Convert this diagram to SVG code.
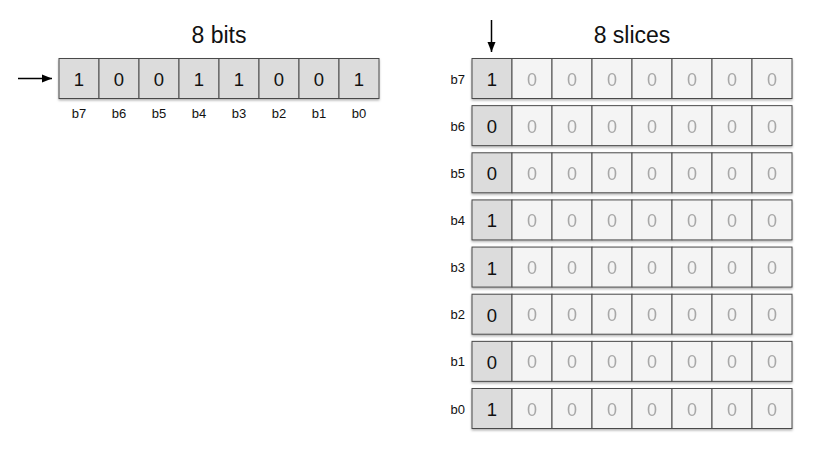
<svg xmlns="http://www.w3.org/2000/svg" width="814" height="451" viewBox="0 0 814 451">
<style>
text{font-family:"Liberation Sans",Arial,sans-serif}
.title{font-size:23px;fill:#111;text-anchor:middle}
.lbl{font-size:13px;fill:#111}
.bl{text-anchor:middle}
.rl{text-anchor:end}
.dig{font-size:18.5px;fill:#111;text-anchor:middle}
.dim{font-size:18px;fill:#a8a8a8;text-anchor:middle}
.cg{fill:#dcdcdc;stroke:#4a4a4a;stroke-width:1}
.cl{fill:#f4f4f4;stroke:#4a4a4a;stroke-width:1}
.row{filter:url(#sh)}
.conn{stroke:#000;stroke-width:1.5;fill:none}
</style>
<defs>
<filter id="sh" x="-5%" y="-20%" width="110%" height="150%">
<feDropShadow dx="0" dy="1.5" stdDeviation="1.2" flood-color="#000" flood-opacity="0.3"/>
</filter>
<marker id="ah" markerWidth="11" markerHeight="10" refX="10" refY="5" orient="auto" markerUnits="userSpaceOnUse">
<path d="M0,1 L10,5 L0,9 Z" fill="#000"/>
</marker>
<g id="lightcells">
<rect class="cl" x="40" y="0" width="40" height="40"/>
<rect class="cl" x="80" y="0" width="40" height="40"/>
<rect class="cl" x="120" y="0" width="40" height="40"/>
<rect class="cl" x="160" y="0" width="40" height="40"/>
<rect class="cl" x="200" y="0" width="40" height="40"/>
<rect class="cl" x="240" y="0" width="40" height="40"/>
<rect class="cl" x="280" y="0" width="40" height="40"/>
<text class="dim" x="60" y="27">0</text>
<text class="dim" x="100" y="27">0</text>
<text class="dim" x="140" y="27">0</text>
<text class="dim" x="180" y="27">0</text>
<text class="dim" x="220" y="27">0</text>
<text class="dim" x="260" y="27">0</text>
<text class="dim" x="300" y="27">0</text>
</g>
</defs>

<g id="connectors">
<line class="conn" x1="18" y1="78.5" x2="52" y2="78.5" marker-end="url(#ah)"/>
<line class="conn" x1="491.5" y1="20" x2="491.5" y2="52" marker-end="url(#ah)"/>
</g>

<g id="bits">
<text class="title" x="219" y="43">8 bits</text>
<g class="row" transform="translate(59,58.5)">
<rect class="cg" x="0" y="0" width="40" height="40"/>
<rect class="cg" x="40" y="0" width="40" height="40"/>
<rect class="cg" x="80" y="0" width="40" height="40"/>
<rect class="cg" x="120" y="0" width="40" height="40"/>
<rect class="cg" x="160" y="0" width="40" height="40"/>
<rect class="cg" x="200" y="0" width="40" height="40"/>
<rect class="cg" x="240" y="0" width="40" height="40"/>
<rect class="cg" x="280" y="0" width="40" height="40"/>
</g>
<g transform="translate(59,58.5)">
<text class="dig" x="20" y="27.5">1</text>
<text class="dig" x="60" y="27.5">0</text>
<text class="dig" x="100" y="27.5">0</text>
<text class="dig" x="140" y="27.5">1</text>
<text class="dig" x="180" y="27.5">1</text>
<text class="dig" x="220" y="27.5">0</text>
<text class="dig" x="260" y="27.5">0</text>
<text class="dig" x="300" y="27.5">1</text>
</g>
<text class="lbl bl" x="79" y="117.5">b7</text>
<text class="lbl bl" x="119" y="117.5">b6</text>
<text class="lbl bl" x="159" y="117.5">b5</text>
<text class="lbl bl" x="199" y="117.5">b4</text>
<text class="lbl bl" x="239" y="117.5">b3</text>
<text class="lbl bl" x="279" y="117.5">b2</text>
<text class="lbl bl" x="319" y="117.5">b1</text>
<text class="lbl bl" x="359" y="117.5">b0</text>
</g>

<g id="slices">
<text class="title" x="632" y="43">8 slices</text>
<g id="slice-b7" transform="translate(472,58.5)">
<g class="row"><rect class="cg" width="40" height="40"/><use href="#lightcells"/></g>
<text class="dig" x="20" y="27.5">1</text>
<text class="lbl rl" x="-7" y="25">b7</text>
</g>
<g id="slice-b6" transform="translate(472,105.64)">
<g class="row"><rect class="cg" width="40" height="40"/><use href="#lightcells"/></g>
<text class="dig" x="20" y="27.5">0</text>
<text class="lbl rl" x="-7" y="25">b6</text>
</g>
<g id="slice-b5" transform="translate(472,152.79)">
<g class="row"><rect class="cg" width="40" height="40"/><use href="#lightcells"/></g>
<text class="dig" x="20" y="27.5">0</text>
<text class="lbl rl" x="-7" y="25">b5</text>
</g>
<g id="slice-b4" transform="translate(472,199.93)">
<g class="row"><rect class="cg" width="40" height="40"/><use href="#lightcells"/></g>
<text class="dig" x="20" y="27.5">1</text>
<text class="lbl rl" x="-7" y="25">b4</text>
</g>
<g id="slice-b3" transform="translate(472,247.07)">
<g class="row"><rect class="cg" width="40" height="40"/><use href="#lightcells"/></g>
<text class="dig" x="20" y="27.5">1</text>
<text class="lbl rl" x="-7" y="25">b3</text>
</g>
<g id="slice-b2" transform="translate(472,294.21)">
<g class="row"><rect class="cg" width="40" height="40"/><use href="#lightcells"/></g>
<text class="dig" x="20" y="27.5">0</text>
<text class="lbl rl" x="-7" y="25">b2</text>
</g>
<g id="slice-b1" transform="translate(472,341.36)">
<g class="row"><rect class="cg" width="40" height="40"/><use href="#lightcells"/></g>
<text class="dig" x="20" y="27.5">0</text>
<text class="lbl rl" x="-7" y="25">b1</text>
</g>
<g id="slice-b0" transform="translate(472,388.5)">
<g class="row"><rect class="cg" width="40" height="40"/><use href="#lightcells"/></g>
<text class="dig" x="20" y="27.5">1</text>
<text class="lbl rl" x="-7" y="25">b0</text>
</g>
</g>
</svg>
